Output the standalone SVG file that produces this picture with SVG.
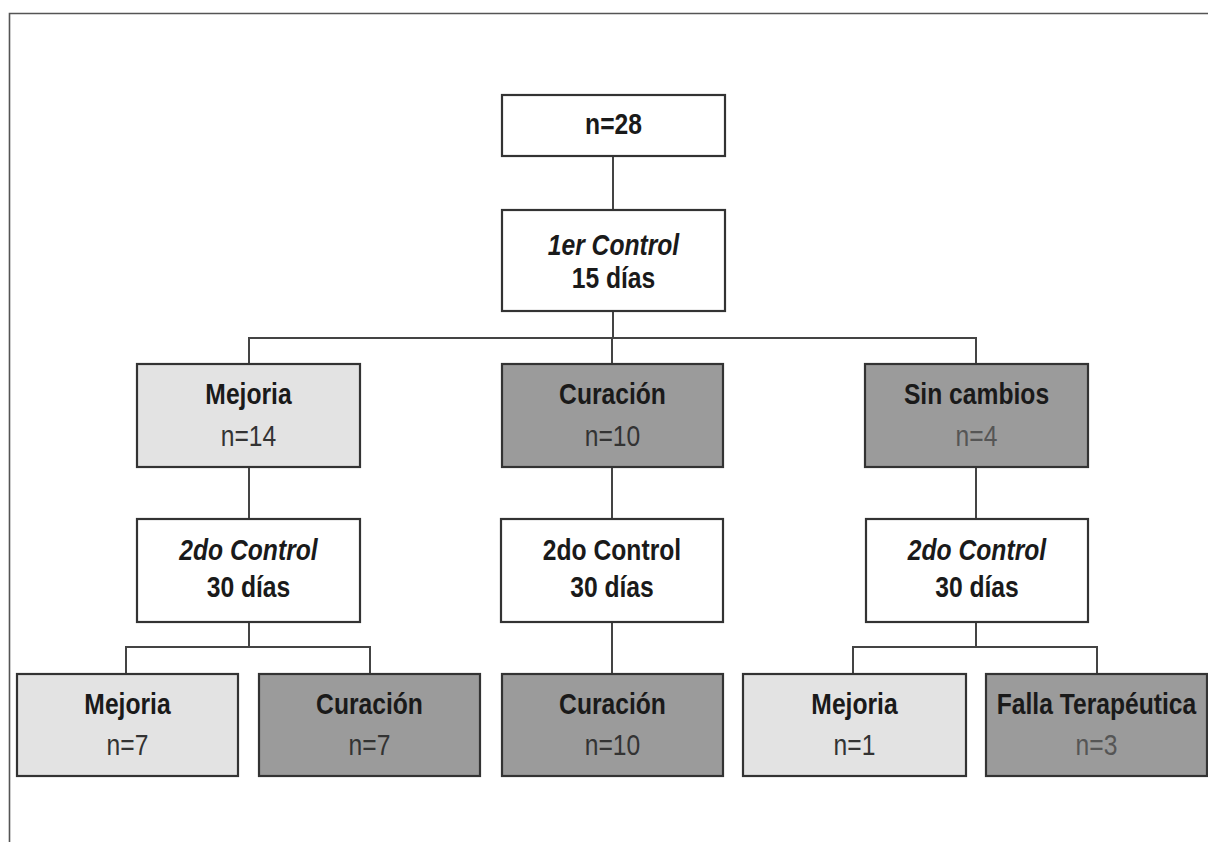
<svg xmlns="http://www.w3.org/2000/svg" width="1208" height="842" viewBox="0 0 1208 842">
<style>
.box{stroke:#333;stroke-width:2.2}
.w{fill:#ffffff}
.l{fill:#e3e3e3}
.d{fill:#9b9b9b}
.c{stroke:#444;stroke-width:2;fill:none}
text{font-family:"Liberation Sans",Arial,sans-serif;font-size:29px;text-anchor:middle}
.b{font-weight:bold;fill:#1a1a1a}
.i{font-style:italic}
.n{font-weight:normal;fill:#333}
.g{font-weight:normal;fill:#555}
</style>
<rect width="1208" height="842" fill="#ffffff"/>
<path d="M9.5 842 V13.5 H1208" fill="none" stroke="#555" stroke-width="1.6"/>
<g id="connectors">
<path class="c" d="M613 157 V210"/>
<path class="c" d="M613 311 V338 M249 364 V338 H976 V364 M612 338 V364"/>
<path class="c" d="M249 467 V519 M612 467 V519 M976 467 V519"/>
<path class="c" d="M249 622 V647 M126 674 V647 H370 V674"/>
<path class="c" d="M612 622 V674"/>
<path class="c" d="M976 622 V647 M853 674 V647 H1097 V674"/>
</g>
<g id="n28"><rect class="box w" x="502" y="95" width="223" height="61"/><g transform="translate(613.5 0) scale(0.85 1)"><text class="b" x="0" y="134">n=28</text></g></g>
<g id="control1"><rect class="box w" x="502" y="210" width="223" height="101"/><g transform="translate(613.5 0) scale(0.85 1)"><text class="b i" x="0" y="255">1er Control</text><text class="b" x="0" y="288">15 días</text></g></g>
<g id="mejoria1"><rect class="box l" x="137" y="364" width="223" height="103"/><g transform="translate(248.5 0) scale(0.85 1)"><text class="b" x="0" y="404">Mejoria</text><text class="n" x="0" y="446">n=14</text></g></g>
<g id="curacion1"><rect class="box d" x="502" y="364" width="221" height="103"/><g transform="translate(612.5 0) scale(0.85 1)"><text class="b" x="0" y="404">Curación</text><text class="n" x="0" y="446">n=10</text></g></g>
<g id="sincambios"><rect class="box d" x="865" y="364" width="223" height="103"/><g transform="translate(976.5 0) scale(0.85 1)"><text class="b" x="0" y="404">Sin cambios</text><text class="g" x="0" y="446">n=4</text></g></g>
<g id="control2a"><rect class="box w" x="137" y="519" width="223" height="103"/><g transform="translate(248.5 0) scale(0.85 1)"><text class="b i" x="0" y="560">2do Control</text><text class="b" x="0" y="597">30 días</text></g></g>
<g id="control2b"><rect class="box w" x="501" y="519" width="222" height="103"/><g transform="translate(612 0) scale(0.85 1)"><text class="b" x="0" y="560">2do Control</text><text class="b" x="0" y="597">30 días</text></g></g>
<g id="control2c"><rect class="box w" x="866" y="519" width="222" height="103"/><g transform="translate(977 0) scale(0.85 1)"><text class="b i" x="0" y="560">2do Control</text><text class="b" x="0" y="597">30 días</text></g></g>
<g id="mejoria2"><rect class="box l" x="17" y="674" width="221" height="102"/><g transform="translate(127.5 0) scale(0.85 1)"><text class="b" x="0" y="714">Mejoria</text><text class="n" x="0" y="755">n=7</text></g></g>
<g id="curacion2"><rect class="box d" x="259" y="674" width="221" height="102"/><g transform="translate(369.5 0) scale(0.85 1)"><text class="b" x="0" y="714">Curación</text><text class="n" x="0" y="755">n=7</text></g></g>
<g id="curacion3"><rect class="box d" x="502" y="674" width="221" height="102"/><g transform="translate(612.5 0) scale(0.85 1)"><text class="b" x="0" y="714">Curación</text><text class="n" x="0" y="755">n=10</text></g></g>
<g id="mejoria3"><rect class="box l" x="743" y="674" width="223" height="102"/><g transform="translate(854.5 0) scale(0.85 1)"><text class="b" x="0" y="714">Mejoria</text><text class="n" x="0" y="755">n=1</text></g></g>
<g id="falla"><rect class="box d" x="986" y="674" width="221" height="102"/><g transform="translate(1096.5 0) scale(0.85 1)"><text class="b" x="0" y="714">Falla Terapéutica</text><text class="g" x="0" y="755">n=3</text></g></g>
</svg>
